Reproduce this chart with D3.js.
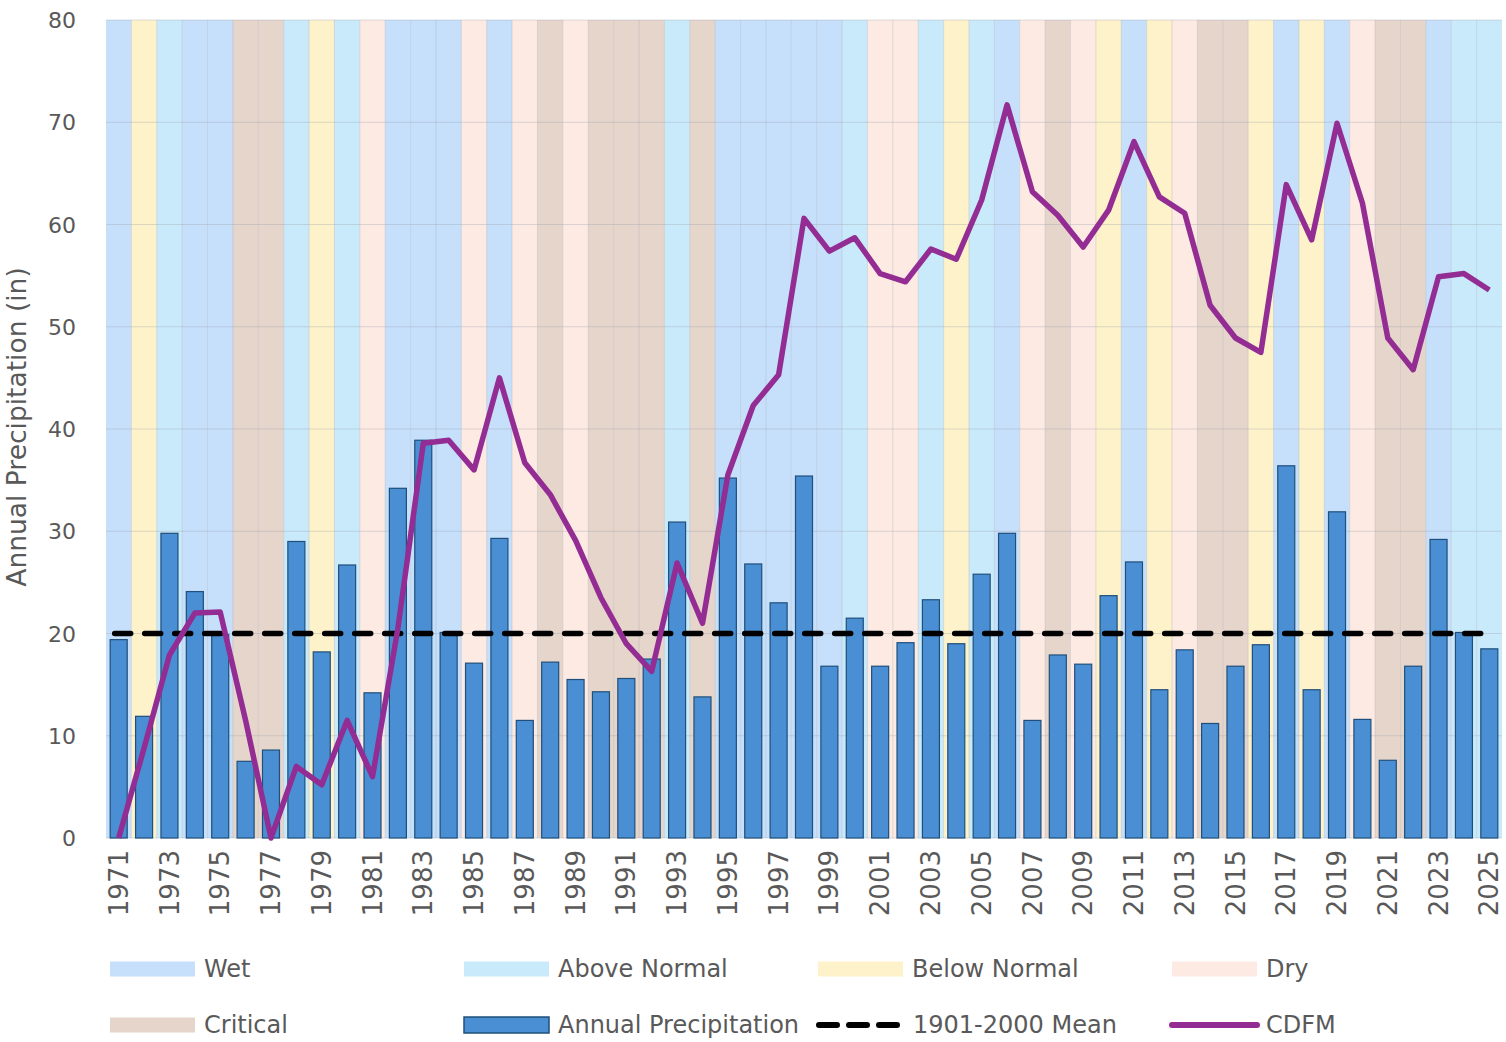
<!DOCTYPE html>
<html>
<head>
<meta charset="utf-8">
<script src="https://cdn.jsdelivr.net/npm/d3@7"></script>
<style>
  body { margin: 0; background: #fff; }
  text { font-family: "DejaVu Sans", "Open Sans", sans-serif; fill: #595959; }
</style>
</head>
<body>
<svg id="chart"></svg>
<script>
// Water years
const years = d3.range(1971, 2026);

// Water year type for each year (1971..2025)
const yearTypes = [
  "Wet", "Below Normal", "Above Normal", "Wet", "Wet", "Critical", "Critical", "Above Normal", "Below Normal", "Above Normal",
  "Dry", "Wet", "Wet", "Wet", "Dry", "Wet", "Dry", "Critical", "Dry", "Critical",
  "Critical", "Critical", "Above Normal", "Critical", "Wet", "Wet", "Wet", "Wet", "Wet", "Above Normal",
  "Dry", "Dry", "Above Normal", "Below Normal", "Above Normal", "Wet", "Dry", "Critical", "Dry", "Below Normal",
  "Wet", "Below Normal", "Dry", "Critical", "Critical", "Below Normal", "Wet", "Below Normal", "Wet", "Dry",
  "Critical", "Critical", "Wet", "Above Normal", "Above Normal"
];

// Annual precipitation (in)
const precip = [
  19.4, 11.9, 29.8, 24.1, 19.9, 7.5, 8.6, 29.0, 18.2, 26.7,
  14.2, 34.2, 38.9, 20.1, 17.1, 29.3, 11.5, 17.2, 15.5, 14.3,
  15.6, 17.5, 30.9, 13.8, 35.2, 26.8, 23.0, 35.4, 16.8, 21.5,
  16.8, 19.1, 23.3, 19.0, 25.8, 29.8, 11.5, 17.9, 17.0, 23.7,
  27.0, 14.5, 18.4, 11.2, 16.8, 18.9, 36.4, 14.5, 31.9, 11.6,
  7.6, 16.8, 29.2, 20.1, 18.5
];

// CDFM
const cdfm = [
  0, 8.8, 17.9, 22.0, 22.1, 11.5, 0, 7.0, 5.2, 11.5,
  6.0, 20.5, 38.6, 38.9, 36.0, 45.0, 36.7, 33.6, 29.1, 23.5,
  19.0, 16.3, 26.9, 21.0, 35.5, 42.3, 45.3, 60.6, 57.4, 58.7,
  55.2, 54.4, 57.6, 56.6, 62.4, 71.7, 63.2, 60.9, 57.8, 61.4,
  68.1, 62.7, 61.1, 52.1, 48.9, 47.5, 63.9, 58.5, 69.9, 62.1,
  48.9, 45.8, 54.9, 55.2, 53.6
];

const meanValue = 20;
const yTicks = [0, 10, 20, 30, 40, 50, 60, 70, 80];

const typeNames = ["Wet", "Above Normal", "Below Normal", "Dry", "Critical"];
const typeColors = ["#c6dffb", "#c9eafb", "#fdf2c9", "#fdeae3", "#e6d5cb"];

const width = 1506, height = 1042;
const margin = { top: 20, right: 4, bottom: 204, left: 106 };
const plotW = width - margin.left - margin.right;
const plotH = height - margin.top - margin.bottom;

const svg = d3.select("#chart")
    .attr("width", width)
    .attr("height", height);

const g = svg.append("g")
    .attr("transform", "translate(" + margin.left + "," + margin.top + ")");

const color = d3.scaleOrdinal().domain(typeNames).range(typeColors);

// column band for backgrounds
const xCol = d3.scaleBand()
    .domain(years)
    .range([0, plotW])
    .padding(0);

// bars
const xBar = d3.scaleBand()
    .domain(years)
    .range([0, plotW])
    .paddingInner(0.33)
    .paddingOuter(0.165);

const y = d3.scaleLinear()
    .domain([0, 80])
    .range([plotH, 0]);

const data = years.map((yr, i) => ({ year: yr, type: yearTypes[i], precip: precip[i], cdfm: cdfm[i] }));

// background bands
g.selectAll("rect.band")
    .data(data)
    .enter().append("rect")
    .attr("class", "band")
    .attr("x", d => xCol(d.year))
    .attr("y", 0)
    .attr("width", xCol.bandwidth())
    .attr("height", plotH)
    .attr("fill", d => color(d.type));

// column separators
g.selectAll("line.vsep")
    .data(years.slice(1))
    .enter().append("line")
    .attr("class", "vsep")
    .attr("x1", d => xCol(d))
    .attr("x2", d => xCol(d))
    .attr("y1", 0)
    .attr("y2", plotH)
    .attr("stroke", "#9aa3ad")
    .attr("stroke-opacity", 0.3)
    .attr("stroke-width", 1);

// horizontal gridlines
g.selectAll("line.hgrid")
    .data(yTicks)
    .enter().append("line")
    .attr("class", "hgrid")
    .attr("x1", 0)
    .attr("x2", plotW)
    .attr("y1", d => y(d))
    .attr("y2", d => y(d))
    .attr("stroke", "#9aa3ad")
    .attr("stroke-opacity", 0.35)
    .attr("stroke-width", 1);

// bars
g.selectAll("rect.bar")
    .data(data)
    .enter().append("rect")
    .attr("class", "bar")
    .attr("x", d => xBar(d.year))
    .attr("y", d => y(d.precip))
    .attr("width", xBar.bandwidth())
    .attr("height", d => plotH - y(d.precip))
    .attr("fill", "#4a8fd3")
    .attr("stroke", "#1f4f7a")
    .attr("stroke-width", 1.2);

// mean line
const cx = d => xCol(d) + xCol.bandwidth() / 2;
g.append("line")
    .attr("x1", cx(years[0]) - 4)
    .attr("x2", cx(years[years.length - 1]) - 6)
    .attr("y1", y(meanValue))
    .attr("y2", y(meanValue))
    .attr("stroke", "#000")
    .attr("stroke-width", 5.5)
    .attr("stroke-linecap", "round")
    .attr("stroke-dasharray", "16,14");

// CDFM line
const line = d3.line()
    .x(d => cx(d.year))
    .y(d => y(d.cdfm));

g.append("path")
    .datum(data)
    .attr("d", line)
    .attr("fill", "none")
    .attr("stroke", "#932c93")
    .attr("stroke-width", 5.5)
    .attr("stroke-linejoin", "round");

// y axis
const yAxis = g.append("g")
    .call(d3.axisLeft(y).tickValues(yTicks).tickSize(0).tickPadding(30));
yAxis.select(".domain").remove();
yAxis.selectAll("text")
    .style("font-size", "22px")
    .attr("dy", "0.35em");

// x axis (every other year)
const xAxis = g.append("g")
    .attr("transform", "translate(0," + plotH + ")")
    .call(d3.axisBottom(xCol).tickValues(years.filter((d, i) => i % 2 === 0)).tickSize(0));
xAxis.select(".domain").remove();
xAxis.selectAll("text")
    .style("font-size", "26px")
    .attr("transform", "rotate(-90)")
    .attr("text-anchor", "end")
    .attr("x", -12)
    .attr("y", 0)
    .attr("dy", "0.35em");

// y axis title
svg.append("text")
    .attr("transform", "rotate(-90)")
    .attr("x", -(margin.top + plotH / 2) + 2)
    .attr("y", 26)
    .attr("text-anchor", "middle")
    .style("font-size", "26.5px")
    .text("Annual Precipitation (in)");

// legend
const legendX = [110, 464, 818, 1172];
const row1 = 969, row2 = 1025;
const swW = 85, swH = 15;
const legFont = "24px";

const leg = svg.append("g");
typeNames.forEach((name, i) => {
    const lx = legendX[i % 4];
    const ly = i < 4 ? row1 : row2;
    leg.append("rect")
        .attr("x", lx)
        .attr("y", ly - swH / 2)
        .attr("width", swW)
        .attr("height", swH)
        .attr("fill", color(name));
    leg.append("text")
        .attr("x", lx + swW + 9)
        .attr("y", ly)
        .attr("dy", "0.35em")
        .style("font-size", legFont)
        .text(name);
});

// annual precipitation swatch
leg.append("rect")
    .attr("x", legendX[1])
    .attr("y", row2 - 8)
    .attr("width", swW)
    .attr("height", 16)
    .attr("fill", "#4a8fd3")
    .attr("stroke", "#1f4f7a")
    .attr("stroke-width", 1.5);
leg.append("text")
    .attr("x", legendX[1] + swW + 9)
    .attr("y", row2)
    .attr("dy", "0.35em")
    .style("font-size", legFont)
    .text("Annual Precipitation");

// mean swatch
leg.append("line")
    .attr("x1", 819)
    .attr("x2", 903)
    .attr("y1", row2)
    .attr("y2", row2)
    .attr("stroke", "#000")
    .attr("stroke-width", 6)
    .attr("stroke-linecap", "round")
    .attr("stroke-dasharray", "18,12");
leg.append("text")
    .attr("x", 913)
    .attr("y", row2)
    .attr("dy", "0.35em")
    .style("font-size", legFont)
    .text("1901-2000 Mean");

// CDFM swatch
leg.append("line")
    .attr("x1", legendX[3])
    .attr("x2", legendX[3] + swW)
    .attr("y1", row2)
    .attr("y2", row2)
    .attr("stroke", "#932c93")
    .attr("stroke-width", 6)
    .attr("stroke-linecap", "round");
leg.append("text")
    .attr("x", legendX[3] + swW + 9)
    .attr("y", row2)
    .attr("dy", "0.35em")
    .style("font-size", legFont)
    .text("CDFM");
</script>
</body>
</html>
